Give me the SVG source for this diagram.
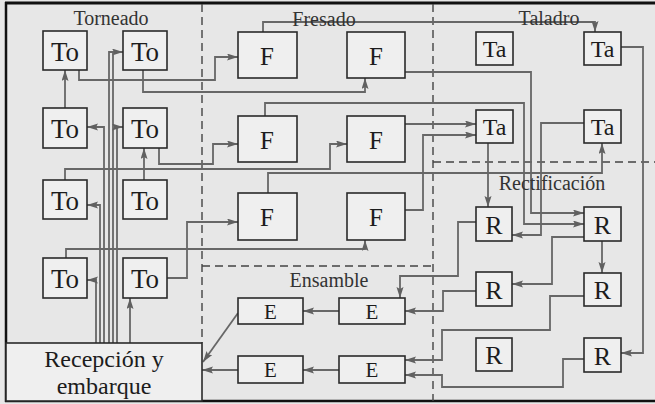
<svg xmlns="http://www.w3.org/2000/svg" width="655" height="404" viewBox="0 0 655 404" font-family="'Liberation Serif', 'Times New Roman', serif">
<defs>
<marker id="ah" markerUnits="userSpaceOnUse" markerWidth="12" markerHeight="8" refX="11" refY="3.5" orient="auto">
<path d="M0,0 L11,3.5 L0,7 L2,3.5 z" fill="#606060"/>
</marker>
<style>
text{font-family:"Liberation Serif","Times New Roman",serif}
.node rect{fill:#efefef;stroke:#2a2a2a;stroke-width:1.6}
.t{font-family:"Liberation Serif","Times New Roman",serif;text-anchor:middle;fill:#1c1c1c}
.to .t{font-size:27px}
.f .t{font-size:25px}
.ta .t{font-size:24px}
.r .t{font-size:26px}
.e .t{font-size:21px}
.lbl{font-family:"Liberation Serif","Times New Roman",serif;font-size:20px;fill:#333;text-anchor:middle}
.conn path{fill:none;stroke:#676767;stroke-width:1.8;marker-end:url(#ah)}
.conn path.plain{marker-end:none}
.dash{stroke:#444;stroke-width:1.4;stroke-dasharray:8 5;fill:none}
</style>
</defs>
<rect x="0" y="0" width="655" height="404" fill="#e7e7e7"/>
<g id="frame">
<line x1="5" y1="3" x2="655" y2="3" stroke="#111" stroke-width="3"/>
<line x1="6" y1="2" x2="6" y2="402" stroke="#111" stroke-width="2.5"/>
<line x1="5" y1="401" x2="655" y2="401" stroke="#111" stroke-width="2.5"/>
<path class="dash" d="M202,4 V343"/>
<path class="dash" d="M433,4 V401"/>
<path class="dash" d="M433,162 H655"/>
<path class="dash" d="M202,266 H433"/>
</g>
<g id="connectors" class="conn">
<path d="M65,108 V70"/>
<path d="M144,180 V148"/>
<path d="M130,343 V298"/>
<path d="M109,343 V52 H123"/>
<path class="plain" d="M113,343 V52"/>
<path d="M104,343 V127 H87"/>
<path d="M117,343 V127 H123"/>
<path d="M100,343 V205 H87"/>
<path d="M96,343 V280 H87"/>
<path d="M79,70 V80 H215 V57 H238"/>
<path d="M143,70 V92 H365 V78"/>
<path d="M159,148 V164 H213 V144 H238"/>
<path d="M65,180 V169 H330 V144 H347"/>
<path d="M166,278 H187 V222 H238"/>
<path d="M66,258 V249 H365 V240"/>
<path d="M263,32 V22 H595 V32"/>
<path d="M405,72 H531 V213 H584"/>
<path d="M265,116 V103 H524 V224 H584"/>
<path d="M405,124 H476"/>
<path d="M405,210 H423 V135 H476"/>
<path d="M268,193 V173 H602 V143"/>
<path d="M621,47 H643 V353 H621"/>
<path d="M488,143 V207"/>
<path d="M584,123 H541 V235 H512"/>
<path d="M602,241 V273"/>
<path d="M584,237 H552 V284 H512"/>
<path d="M476,222 H458 V276 H400 V298"/>
<path d="M476,291 H443 V311 H405"/>
<path d="M584,296 H550 V330 H442 V360 H405"/>
<path d="M584,359 H563 V387 H442 V375 H405"/>
<path d="M339,311 H303"/>
<path d="M339,370 H303"/>
<path d="M238,370 H202"/>
<path d="M238,313 L203,362"/>
</g>
<text class="lbl" x="111" y="25">Torneado</text>
<text class="lbl" x="324" y="26">Fresado</text>
<text class="lbl" x="549" y="25">Taladro</text>
<text class="lbl" x="552" y="190">Rectificación</text>
<text class="lbl" x="329" y="287">Ensamble</text>
<g id="to1" class="node to"><rect x="43" y="31" width="44" height="39"/><text class="t" x="65" y="61">To</text></g>
<g id="to2" class="node to"><rect x="123" y="31" width="44" height="39"/><text class="t" x="145" y="61">To</text></g>
<g id="to3" class="node to"><rect x="43" y="108" width="44" height="40"/><text class="t" x="65" y="138">To</text></g>
<g id="to4" class="node to"><rect x="123" y="108" width="44" height="40"/><text class="t" x="145" y="138">To</text></g>
<g id="to5" class="node to"><rect x="43" y="180" width="44" height="39"/><text class="t" x="65" y="210">To</text></g>
<g id="to6" class="node to"><rect x="123" y="180" width="44" height="39"/><text class="t" x="145" y="210">To</text></g>
<g id="to7" class="node to"><rect x="43" y="258" width="44" height="40"/><text class="t" x="65" y="288">To</text></g>
<g id="to8" class="node to"><rect x="123" y="258" width="44" height="40"/><text class="t" x="145" y="288">To</text></g>
<g id="f1" class="node f"><rect x="238" y="32" width="59" height="46"/><text class="t" x="267" y="65">F</text></g>
<g id="f2" class="node f"><rect x="347" y="32" width="58" height="46"/><text class="t" x="376" y="65">F</text></g>
<g id="f3" class="node f"><rect x="238" y="116" width="59" height="46"/><text class="t" x="267" y="149">F</text></g>
<g id="f4" class="node f"><rect x="347" y="116" width="58" height="46"/><text class="t" x="376" y="149">F</text></g>
<g id="f5" class="node f"><rect x="238" y="193" width="59" height="47"/><text class="t" x="267" y="226">F</text></g>
<g id="f6" class="node f"><rect x="347" y="193" width="58" height="47"/><text class="t" x="376" y="226">F</text></g>
<g id="ta1" class="node ta"><rect x="476" y="32" width="37" height="33"/><text class="t" x="494.5" y="57">Ta</text></g>
<g id="ta2" class="node ta"><rect x="584" y="32" width="37" height="33"/><text class="t" x="602.5" y="57">Ta</text></g>
<g id="ta3" class="node ta"><rect x="476" y="110" width="37" height="33"/><text class="t" x="494.5" y="135">Ta</text></g>
<g id="ta4" class="node ta"><rect x="584" y="110" width="37" height="33"/><text class="t" x="602.5" y="135">Ta</text></g>
<g id="r1" class="node r"><rect x="476" y="207" width="36" height="34"/><text class="t" x="494" y="234">R</text></g>
<g id="r2" class="node r"><rect x="584" y="207" width="37" height="34"/><text class="t" x="602.5" y="234">R</text></g>
<g id="r3" class="node r"><rect x="476" y="272" width="36" height="34"/><text class="t" x="494" y="299">R</text></g>
<g id="r4" class="node r"><rect x="584" y="273" width="37" height="33"/><text class="t" x="602.5" y="299">R</text></g>
<g id="r5" class="node r"><rect x="476" y="338" width="36" height="33"/><text class="t" x="494" y="364">R</text></g>
<g id="r6" class="node r"><rect x="584" y="338" width="37" height="34"/><text class="t" x="602.5" y="365">R</text></g>
<g id="e1" class="node e"><rect x="238" y="298" width="65" height="26"/><text class="t" x="270.5" y="319">E</text></g>
<g id="e2" class="node e"><rect x="339" y="298" width="66" height="26"/><text class="t" x="372" y="319">E</text></g>
<g id="e3" class="node e"><rect x="238" y="356" width="65" height="27"/><text class="t" x="270.5" y="377">E</text></g>
<g id="e4" class="node e"><rect x="339" y="356" width="66" height="27"/><text class="t" x="372" y="377">E</text></g>
<g id="recepcion" class="node"><rect x="6" y="343" width="196" height="58"/><text class="t" x="104" y="367" font-size="24">Recepción y</text><text class="t" x="104" y="394" font-size="24">embarque</text></g>
</svg>
